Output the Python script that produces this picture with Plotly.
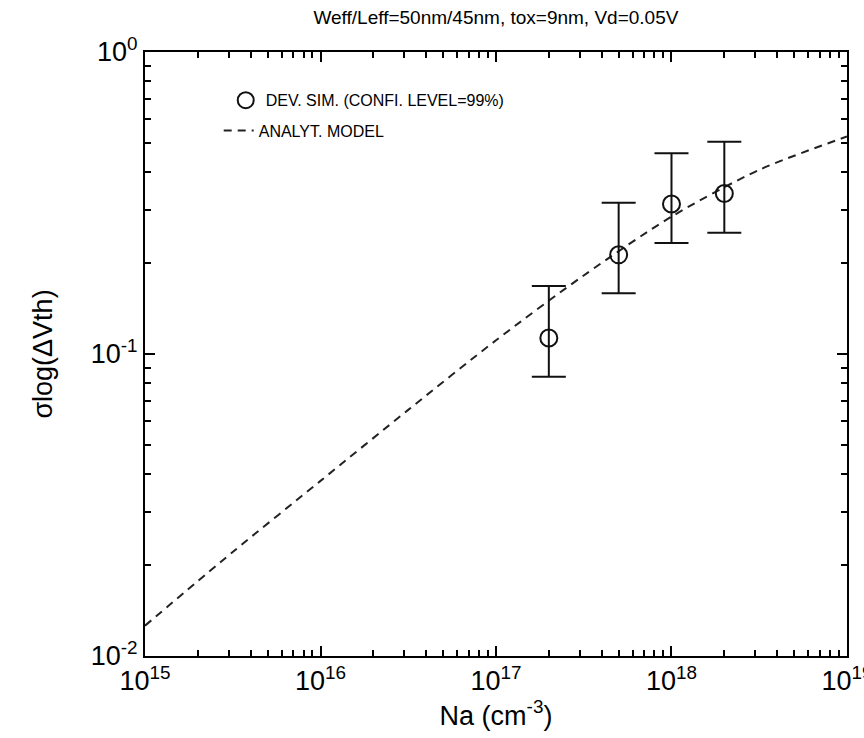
import plotly.graph_objects as go

# ---- data ----
sim_na = [2e17, 5e17, 1e18, 2e18]
sim_sigma = [0.113, 0.213, 0.314, 0.340]
sim_upper = [0.168, 0.317, 0.462, 0.505]
sim_lower = [0.084, 0.159, 0.233, 0.252]

model_na = [1e15, 3.16e15, 1e16, 3.16e16, 1e17, 3.16e17, 1e18, 3.16e18, 1e19]
model_sigma = [0.0126, 0.0221, 0.0380, 0.0653, 0.111, 0.182, 0.285, 0.407, 0.525]

x_tickvals = [1e15, 1e16, 1e17, 1e18, 1e19]
x_ticktext = ["10<sup>15</sup>", "10<sup>16</sup>", "10<sup>17</sup>", "10<sup>18</sup>", "10<sup>19</sup>"]
y_tickvals = [1e-2, 1e-1, 1e0]
y_ticktext = ["10<sup>-2</sup>", "10<sup>-1</sup>", "10<sup>0</sup>"]

title_text = "Weff/Leff=50nm/45nm, tox=9nm, Vd=0.05V"
x_title = "Na (cm<sup>-3</sup>)"
y_title = "σlog(ΔVth)"
sim_name = "DEV. SIM. (CONFI. LEVEL=99%)"
model_name = "ANALYT. MODEL"

FONT = "Liberation Sans Narrow, Liberation Sans, Arial, sans-serif"

x_minor = [m * 10 ** e for e in range(15, 19) for m in range(2, 10)]
y_minor = [m * 10.0 ** e for e in range(-2, 0) for m in range(2, 10)]

fig = go.Figure()

fig.add_trace(go.Scatter(
    x=model_na, y=model_sigma, mode="lines", name=model_name,
    line=dict(color="#222222", width=2, dash="8px,6px", shape="spline", smoothing=0.8),
    legend="legend2",
))

fig.add_trace(go.Scatter(
    x=sim_na, y=sim_sigma, mode="markers", name=sim_name,
    marker=dict(symbol="circle-open", size=17, color="#111111", line=dict(width=2, color="#111111")),
    error_y=dict(
        type="data", symmetric=False,
        array=[u - s for u, s in zip(sim_upper, sim_sigma)],
        arrayminus=[s - l for s, l in zip(sim_sigma, sim_lower)],
        color="#111111", thickness=2, width=17,
    ),
    legend="legend",
))

axis_common = dict(
    type="log", showgrid=False, zeroline=False, showline=True, linecolor="black",
    linewidth=2, mirror="ticks", ticks="inside", ticklen=10, tickwidth=1.5,
    tickcolor="black", tickfont=dict(family=FONT, size=27, color="black"),
    ticklabeloverflow="allow", automargin=False,
)

fig.update_layout(
    width=864, height=738,
    margin=dict(l=145, r=17, t=52, b=82, autoexpand=False),
    paper_bgcolor="white", plot_bgcolor="white",
    title=dict(text=title_text, x=0.574, xanchor="center", y=0.976, yanchor="middle",
               font=dict(family=FONT, size=19, color="black")),
    xaxis=dict(**axis_common, range=[14.9999, 19.0001], tickmode="array", tickvals=x_tickvals, ticktext=x_ticktext,
               minor=dict(tickmode="array", tickvals=x_minor, ticks="inside", ticklen=6, tickcolor="black", tickwidth=1.5),
               title=dict(text=x_title, font=dict(family=FONT, size=27, color="black"), standoff=6)),
    yaxis=dict(**axis_common, range=[-2.0001, 0.0001], tickmode="array", tickvals=y_tickvals, ticktext=y_ticktext,
               minor=dict(tickmode="array", tickvals=y_minor, ticks="inside", ticklen=6, tickcolor="black", tickwidth=1.5),
               title=dict(text=y_title, font=dict(family=FONT, size=27, color="black"), standoff=30)),
    legend=dict(x=0.115, y=0.92, xanchor="left", yanchor="middle", bgcolor="rgba(0,0,0,0)",
                font=dict(family=FONT, size=16, color="black"), itemwidth=30),
    legend2=dict(x=0.105, y=0.87, xanchor="left", yanchor="middle", bgcolor="rgba(0,0,0,0)",
                 font=dict(family=FONT, size=16, color="black"), itemwidth=30),
    showlegend=True,
)

fig.write_html("out.html")
